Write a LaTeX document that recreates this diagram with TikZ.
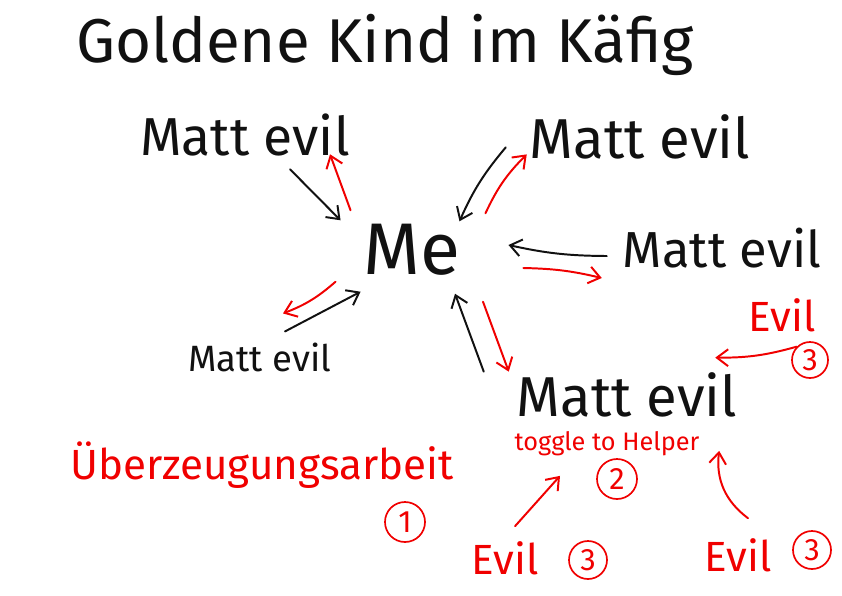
\documentclass[tikz,border=0pt]{standalone}
\usepackage{fontspec}
\setmainfont{Fira Sans}
\usetikzlibrary{arrows.meta, positioning}
\definecolor{ink}{HTML}{111111}
\definecolor{ink-red}{HTML}{F00000}
\tikzset{
  word/.style={inner sep=2pt, text=ink},
  redword/.style={inner sep=2pt, text=ink-red},
  inarrow/.style={draw=ink, line width=1.4pt, line cap=round,
    -{Straight Barb[length=8pt, width=12pt]}},
  outarrow/.style={draw=ink-red, line width=1.4pt, line cap=round,
    -{Straight Barb[length=8pt, width=12pt]}},
  numring/.style={draw=ink-red, line width=1.2pt, circle, text=ink-red,
    inner sep=0pt, minimum size=1cm, font=\fontsize{22}{22}\selectfont}
}

\begin{document}
\begin{tikzpicture}[x=0.025cm, y=-0.025cm]
  \useasboundingbox (0,0) rectangle (842,595);

  % ---- Title ---------------------------------------------------------------
  \node[word, font=\fontsize{44}{44}\selectfont] (title) at (385,45)
    {Goldene Kind im Käfig};

  % ---- Me and the five Matt evil ------------------------------------------
  \node[word, font=\fontsize{52}{52}\selectfont] (me) at (412,250) {Me};

  \foreach \nm/\px/\py/\fs in {mattTL/245/135/38, mattTR/640/137/40,
      mattR/722/248/36, mattBL/260/357/26, mattBR/627/395/40} {
    \node[word, font=\fontsize{\fs}{\fs}\selectfont] (\nm) at (\px,\py) {Matt evil};
  }

  % ---- Black: towards me, red: away from me --------------------------------
  \draw[inarrow] ([shift={(45,10)}]mattTL.south) -- ([shift={(-20,-1)}]me.north west);
  \draw[outarrow] ([shift={(-10,-11)}]me.north west) -- ([shift={(85,-5)}]mattTL.south);

  \draw[inarrow] ([shift={(-21,-15)}]mattTR.south west) to[bend right=8]
    ([shift={(-4,0)}]me.north east);
  \draw[outarrow] ([shift={(22,-8)}]me.north east) to[bend left=10]
    ([shift={(0,-8)}]mattTR.south west);

  \draw[inarrow] ([shift={(-13,8)}]mattR.west) to[bend left=6] ([shift={(45,-5)}]me.east);
  \draw[outarrow] ([shift={(60,18)}]me.east) to[bend left=6] ([shift={(-18,30)}]mattR.west);

  \draw[outarrow] ([shift={(-25,3)}]me.south west) to[bend left=10]
    ([shift={(23,-26)}]mattBL.north);
  \draw[inarrow] ([shift={(25,-8)}]mattBL.north) -- ([shift={(0,13)}]me.south west);

  \draw[inarrow] ([shift={(-30,2)}]mattBR.north west) -- ([shift={(43,15)}]me.south);
  \draw[outarrow] ([shift={(71,23)}]me.south) -- ([shift={(-5,2)}]mattBR.north west);

  % ---- Red notes -----------------------------------------------------------
  \node[redword, font=\fontsize{30}{30}\selectfont] (convince) at (262,465)
    {Überzeugungsarbeit};
  \node[numring] (one) at (405,522) {1};

  \node[redword, inner sep=1pt, font=\fontsize{18}{18}\selectfont] (toggle) at (607,444)
    {toggle to Helper};
  \node[numring] (two) at (617,479) {2};

  \node[redword, font=\fontsize{30}{30}\selectfont] (evilR) at (782,315) {Evil};
  \node[numring, minimum size=0.9cm] (threeR) at (810,360) {3};

  \node[redword, font=\fontsize{30}{30}\selectfont] (evilB) at (505,558) {Evil};
  \node[numring, minimum size=0.95cm] (threeB) at (588,560) {3};

  \node[redword, font=\fontsize{30}{30}\selectfont] (evilBR) at (738,555) {Evil};
  \node[numring, minimum size=0.95cm] (threeBR) at (812,550) {3};

  \draw[outarrow] (threeR.north west) to[bend left=8] ([shift={(-25,-12)}]mattBR.north east);
  \draw[outarrow] ([shift={(10,-12)}]evilB.north) -- ([shift={(-47,18)}]toggle.south);
  \draw[outarrow] ([shift={(10,-17)}]evilBR.north) to[bend left=30]
    ([shift={(18,-7)}]toggle.south east);

\end{tikzpicture}
\end{document}
